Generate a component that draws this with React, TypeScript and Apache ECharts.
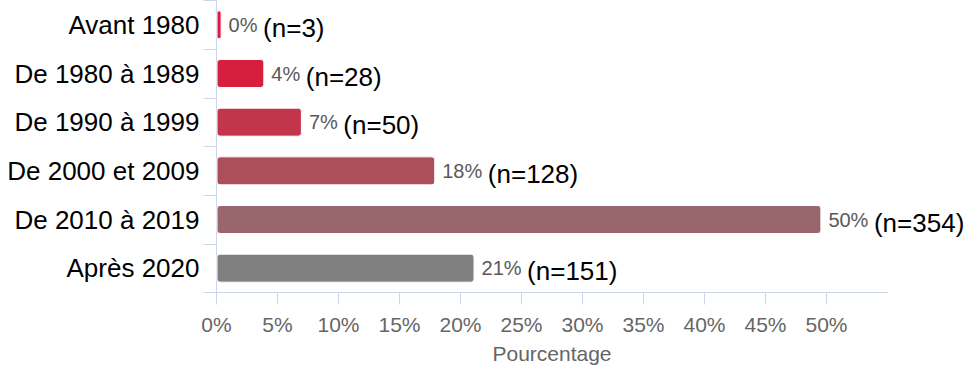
import React, { useEffect, useRef } from "react";
import * as echarts from "echarts";

// Periods shown on the vertical axis, top to bottom
const categories = [
  "Avant 1980",
  "De 1980 à 1989",
  "De 1990 à 1999",
  "De 2000 et 2009",
  "De 2010 à 2019",
  "Après 2020",
];

// Number of respondents per period
const counts = [3, 28, 50, 128, 354, 151];

// Share of respondents per period, in percent
const percentages = [0.42, 3.92, 7.0, 17.93, 49.58, 21.15];

// Bar colour per period
const barColors = ["#e3173f", "#d81e3e", "#c3354b", "#ad4e5b", "#99666d", "#808080"];

const axisColor = "#ccd6eb";
const font = "Arial, 'Liberation Sans', Helvetica, sans-serif";

export default function App() {
  const ref = useRef<HTMLDivElement>(null);

  useEffect(() => {
    if (!ref.current) return;
    const chart = echarts.init(ref.current, null, { renderer: "svg" });

    chart.setOption({
      animation: false,
      textStyle: { fontFamily: font },
      grid: {
        left: 216.5,
        right: 85.5,
        top: 0.5,
        bottom: 77.5,
        containLabel: false,
        outerBoundsMode: "none",
      },
      xAxis: {
        type: "value",
        min: 0,
        max: 55,
        interval: 5,
        name: "Pourcentage",
        nameLocation: "middle",
        nameGap: 50,
        nameTextStyle: { fontSize: 21, color: "#666666", fontFamily: font },
        axisLine: { show: true, lineStyle: { color: axisColor, width: 1 } },
        axisTick: { show: true, length: 12, lineStyle: { color: axisColor } },
        splitLine: { show: false },
        axisLabel: {
          margin: 21,
          fontSize: 21,
          color: "#666666",
          fontFamily: font,
          showMaxLabel: false,
          formatter: (v: number) => (v >= 55 ? "" : `${v}%`),
        },
      },
      yAxis: {
        type: "category",
        inverse: true,
        data: categories,
        axisLine: { show: true, lineStyle: { color: axisColor, width: 1 } },
        axisTick: { show: true, length: 13, alignWithLabel: false, lineStyle: { color: axisColor } },
        axisLabel: { margin: 17, fontSize: 26, color: "#000000", fontFamily: font },
        splitLine: { show: false },
      },
      series: [
        {
          type: "bar",
          barWidth: 29,
          data: percentages.map((v, i) => ({
            value: v,
            itemStyle: {
              color: barColors[i],
              borderColor: "#ffffff",
              borderWidth: 1,
              borderRadius: 3,
            },
          })),
          label: {
            show: true,
            position: "right",
            distance: 7,
            formatter: (p: any) =>
              `{p|${Math.round(p.value)}% }{n|(n=${counts[p.dataIndex]})}`,
            rich: {
              p: {
                fontSize: 20,
                color: "#595959",
                fontFamily: font,
                verticalAlign: "middle",
                lineHeight: 20,
              },
              n: {
                fontSize: 26,
                color: "#000000",
                fontFamily: font,
                verticalAlign: "middle",
                lineHeight: 26,
                padding: [6.6, 0, 0, 0],
              },
            },
          },
        },
      ],
    });

    return () => chart.dispose();
  }, []);

  return (
    <div
      ref={ref}
      style={{ position: "fixed", left: 0, top: 0, width: 973, height: 370, background: "#ffffff" }}
    />
  );
}
